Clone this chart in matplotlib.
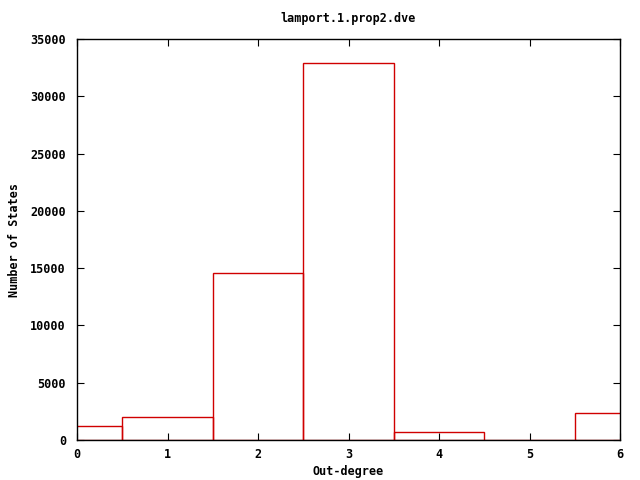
import matplotlib
matplotlib.use("Agg")
import matplotlib.pyplot as plt

degrees = [0, 1, 2, 3, 4, 5, 6]
counts = [1220, 2000, 14550, 32900, 680, 0, 2330]
title = "lamport.1.prop2.dve"
xlabel = "Out-degree"
ylabel = "Number of States"

plt.rcParams['font.family'] = ['DejaVu Sans Mono']
plt.rcParams['font.weight'] = 'bold'

fig = plt.figure(figsize=(6.4, 4.8), dpi=100)
ax = fig.add_axes([77/640, 40/480, (620-77)/640, (440-39)/480])
ax.bar(degrees, counts, width=1.0, fill=False, edgecolor='#d00000', linewidth=1.0)
ax.set_xlim(0, 6)
ax.set_ylim(0, 35000)
ax.set_xticks(range(0, 7))
ax.set_yticks(range(0, 35001, 5000))
ax.tick_params(direction='in', top=True, right=True, length=5, labelsize=8.5)
ax.tick_params(axis='y', pad=8)
ax.tick_params(axis='x', pad=6)
for lbl in ax.get_xticklabels() + ax.get_yticklabels():
    lbl.set_fontweight('bold')
ax.set_title(title, fontsize=8.5, fontweight='bold', pad=12)
fig.text(348/640, 1 - 472/480, xlabel, fontsize=8.5, fontweight='bold',
         ha='center', va='center')
fig.text(15/640, 0.5, ylabel, fontsize=8.5, fontweight='bold',
         ha='center', va='center', rotation=90)
for s in ax.spines.values():
    s.set_linewidth(1.0)
fig.savefig("out.png", dpi=100)
